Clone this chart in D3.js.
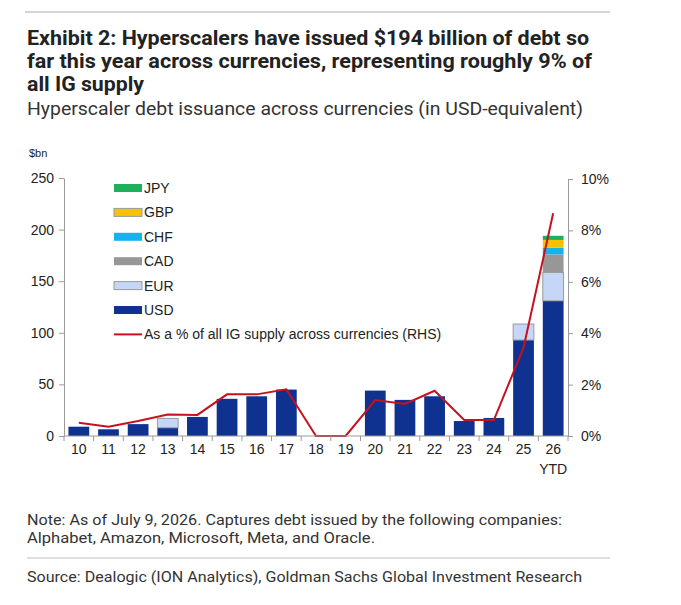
<!DOCTYPE html>
<html>
<head>
<meta charset="utf-8">
<script src="https://cdn.jsdelivr.net/npm/d3@7"></script>
<style>
    body { margin: 0; background: #fff; }
    #space { width: 681px; height: 605px; }
</style>
</head>
<body>
<div id="space"></div>
<script>
// Chart data
var years = ["10", "11", "12", "13", "14", "15", "16", "17", "18", "19", "20", "21", "22", "23", "24", "25", "26"];
var usd = [9, 6.5, 11.5, 8, 18.5, 36, 38.5, 45, 0, 0, 44, 35, 38.5, 14.5, 17.5, 93, 131];
var eur = [0, 0, 0, 9, 0, 0, 0, 0, 0, 0, 0, 0, 0, 0, 0, 15.5, 27.5];
var cad = [0, 0, 0, 0, 0, 0, 0, 0, 0, 0, 0, 0, 0, 0, 0, 0, 17.5];
var chf = [0, 0, 0, 0, 0, 0, 0, 0, 0, 0, 0, 0, 0, 0, 0, 0, 6.5];
var gbp = [0, 0, 0, 0, 0, 0, 0, 0, 0, 0, 0, 0, 0, 0, 0, 0, 7.5];
var jpy = [0, 0, 0, 0, 0, 0, 0, 0, 0, 0, 0, 0, 0, 0, 0, 0, 4];
var pctIG = [0.52, 0.36, 0.58, 0.84, 0.82, 1.62, 1.62, 1.82, 0, 0, 1.4, 1.25, 1.76, 0.62, 0.62, 3.44, 8.67];

var currencies = ["USD", "EUR", "CAD", "CHF", "GBP", "JPY"];
var curColors = ["#0f3290", "#c6d6f6", "#979797", "#19b1ea", "#f7c100", "#1eb05a"];
var legendOrder = ["JPY", "GBP", "CHF", "CAD", "EUR", "USD"];
var leftTicks = [0, 50, 100, 150, 200, 250];
var rightTicks = [0, 2, 4, 6, 8, 10];

var svg, xScale, yLeft, yRight;
var plot = { left: 64, right: 568, top: 178, bottom: 436 };
var chartFont = "'Liberation Sans', Arial, sans-serif";
var textFont = "'Liberation Sans Narrow', 'Roboto', 'Noto Sans', sans-serif";
var chartSize = 14;

init();

function init() {
    initSvg();
    drawHeader();
    initScales();
    drawBars();
    drawLine();
    drawAxes();
    drawLegend();
    drawFooter();
}

function initSvg() {
    svg = d3.select("#space").append("svg")
        .attr("xmlns", "http://www.w3.org/2000/svg")
        .attr("width", 681)
        .attr("height", 605);

    svg.append("rect")
        .attr("width", 681)
        .attr("height", 605)
        .attr("fill", "#fff");

    //Reorder HTML elements.
    svg.append("g").attr("id", "rect");
    svg.append("g").attr("id", "path");
    svg.append("g").attr("id", "axis");
    svg.append("g").attr("id", "text");
}

/************************************************
				Header / Footer
*************************************************/
function addText(str, x, y, size, weight, color, family, len) {
    var t = svg.select("#text").append("text")
        .attr("x", x)
        .attr("y", y)
        .attr("font-family", family)
        .attr("font-size", size)
        .attr("font-weight", weight)
        .attr("fill", color)
        .text(str);
    if (len) {
        t.attr("textLength", len)
         .attr("lengthAdjust", "spacingAndGlyphs");
    }
    return t;
}

function drawHeader() {
    svg.append("line")
        .attr("x1", 25).attr("x2", 610)
        .attr("y1", 12).attr("y2", 12)
        .attr("stroke", "#d4d4d4")
        .attr("stroke-width", 2);

    addText("Exhibit 2: Hyperscalers have issued $194 billion of debt so", 27, 45, 20, "bold", "#222", textFont, 562);
    addText("far this year across currencies, representing roughly 9% of", 27, 68, 20, "bold", "#222", textFont, 565);
    addText("all IG supply", 27, 91, 20, "bold", "#222", textFont, 117);
    addText("Hyperscaler debt issuance across currencies (in USD-equivalent)", 27, 115, 18, "normal", "#333", textFont, 556);

    addText("$bn", 29, 157, 11, "normal", "#222", chartFont);
}

function drawFooter() {
    addText("Note: As of July 9, 2026. Captures debt issued by the following companies:", 27, 525, 14.5, "normal", "#333", textFont, 535);
    addText("Alphabet, Amazon, Microsoft, Meta, and Oracle.", 27, 543, 14.5, "normal", "#333", textFont, 348);

    svg.append("line")
        .attr("x1", 27).attr("x2", 610)
        .attr("y1", 558).attr("y2", 558)
        .attr("stroke", "#d4d4d4")
        .attr("stroke-width", 1.5);

    addText("Source: Dealogic (ION Analytics), Goldman Sachs Global Investment Research", 27, 582, 14.5, "normal", "#333", textFont, 555);
}

/************************************************
				Chart
*************************************************/
function initScales() {
    xScale = d3.scaleBand()
        .domain(years)
        .range([plot.left, plot.right])
        .paddingInner(0.3)
        .paddingOuter(0.15);

    yLeft = d3.scaleLinear()
        .domain([0, 250])
        .range([plot.bottom, plot.top]);

    yRight = d3.scaleLinear()
        .domain([0, 10])
        .range([plot.bottom, 179]);
}

function drawBars() {
    var series = { USD: usd, EUR: eur, CAD: cad, CHF: chf, GBP: gbp, JPY: jpy };
    var rows = years.map(function (y, i) {
        var r = { year: y };
        currencies.forEach(function (c) { r[c] = series[c][i]; });
        return r;
    });

    var stacked = d3.stack().keys(currencies)(rows);
    var color = d3.scaleOrdinal().domain(currencies).range(curColors);

    var layers = svg.select("#rect").selectAll("g.layer")
        .data(stacked)
        .enter().append("g")
        .attr("class", "layer")
        .attr("fill", function (d) { return color(d.key); })
        .attr("stroke", function (d) { return d.key == "EUR" ? "#9a9a9a" : "none"; })
        .attr("stroke-width", 1);

    layers.selectAll("rect")
        .data(function (d) { return d.filter(function (p) { return p[1] - p[0] > 0; }); })
        .enter().append("rect")
        .attr("x", function (d) { return xScale(d.data.year); })
        .attr("width", xScale.bandwidth())
        .attr("y", function (d) { return yLeft(d[1]); })
        .attr("height", function (d) { return yLeft(d[0]) - yLeft(d[1]); });
}

function drawLine() {
    var line = d3.line()
        .x(function (d, i) { return xScale(years[i]) + xScale.bandwidth() / 2; })
        .y(function (d) { return yRight(d); });

    svg.select("#path").append("path")
        .datum(pctIG)
        .attr("d", line)
        .attr("fill", "none")
        .attr("stroke", "#c8101e")
        .attr("stroke-width", 2);
}

function styleAxis(g) {
    g.selectAll("path").attr("stroke", "#9a9a9a");
    g.selectAll("line").attr("stroke", "#9a9a9a");
    g.selectAll("text")
        .attr("font-family", chartFont)
        .attr("font-size", chartSize)
        .attr("fill", "#222");
}

function drawAxes() {
    var axisG = svg.select("#axis");

    //Left axis
    var left = axisG.append("g")
        .attr("transform", "translate(" + plot.left + ",0)")
        .call(d3.axisLeft(yLeft).tickValues(leftTicks).tickSize(5).tickSizeOuter(0).tickPadding(5));
    styleAxis(left);

    //Right axis
    var right = axisG.append("g")
        .attr("transform", "translate(" + plot.right + ",0)")
        .call(d3.axisRight(yRight).tickValues(rightTicks).tickSize(5).tickSizeOuter(0).tickPadding(8)
            .tickFormat(function (d) { return d + "%"; }));
    styleAxis(right);

    //Bottom axis with ticks between bars
    var bottom = axisG.append("g")
        .attr("transform", "translate(0," + plot.bottom + ")")
        .call(d3.axisBottom(xScale).tickSize(0).tickPadding(8));
    bottom.select("path").attr("d", "M" + plot.left + ",0H" + plot.right);
    styleAxis(bottom);

    var step = xScale.step();
    var bounds = years.map(function (y) { return xScale(y) - step * xScale.paddingInner() / 2; });
    bounds.push(plot.right);
    axisG.append("g")
        .selectAll("line")
        .data(bounds)
        .enter().append("line")
        .attr("x1", function (d) { return d; })
        .attr("x2", function (d) { return d; })
        .attr("y1", plot.bottom)
        .attr("y2", plot.bottom + 5)
        .attr("stroke", "#9a9a9a");

    addText("YTD", xScale("26") + xScale.bandwidth() / 2, 474, chartSize, "normal", "#222", chartFont)
        .attr("text-anchor", "middle");
}

function drawLegend() {
    var lx = 114, ly = 188, gap = 24.4;
    var color = d3.scaleOrdinal().domain(currencies).range(curColors);

    var items = svg.select("#text").selectAll("g.legend")
        .data(legendOrder)
        .enter().append("g")
        .attr("class", "legend")
        .attr("transform", function (d, i) { return "translate(" + lx + "," + (ly + i * gap) + ")"; });

    items.append("rect")
        .attr("x", 0)
        .attr("y", -4)
        .attr("width", 28)
        .attr("height", 8)
        .attr("fill", function (d) { return color(d); })
        .attr("stroke", function (d) { return (d == "EUR" || d == "GBP") ? "#9a9a9a" : "none"; });

    items.append("text")
        .attr("x", 30)
        .attr("y", 5)
        .attr("font-family", chartFont)
        .attr("font-size", chartSize)
        .attr("fill", "#222")
        .text(function (d) { return d; });

    var lineY = ly + 6 * gap;
    svg.select("#text").append("line")
        .attr("x1", lx).attr("x2", lx + 28)
        .attr("y1", lineY).attr("y2", lineY)
        .attr("stroke", "#c8101e")
        .attr("stroke-width", 2);

    addText("As a % of all IG supply across currencies (RHS)", lx + 30, lineY + 5, chartSize, "normal", "#222", chartFont);
}
</script>
</body>
</html>
